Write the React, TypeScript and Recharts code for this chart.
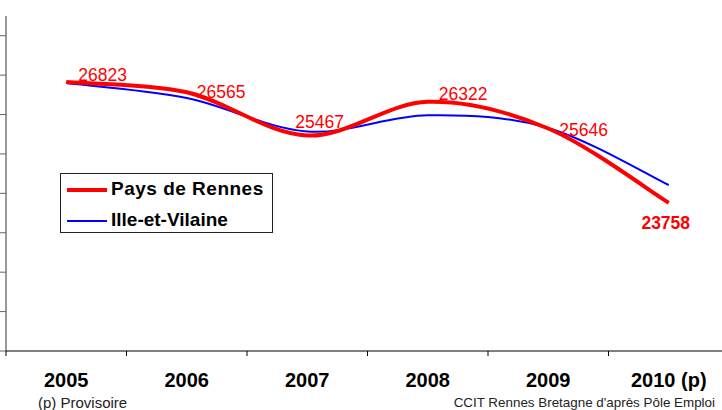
import { LineChart, Line, XAxis, YAxis, LabelList } from "recharts";

const years = ["2005", "2006", "2007", "2008", "2009", "2010 (p)"];
const paysDeRennes = [26823, 26565, 25467, 26322, 25646, 23758];
const illeEtVilaine = [26800, 26420, 25570, 25980, 25660, 24210];
const yTicks = [20000, 21000, 22000, 23000, 24000, 25000, 26000, 27000, 28000];
const xBounds = [-0.5, 0.5, 1.5, 2.5, 3.5, 4.5, 5.5];

// label placement next to each point: [dx, dy]
const labelOffsets = [
  [12, -1],
  [10, 6],
  [-12, -8],
  [11, -2],
  [11, 8],
  [-3, 26],
];

const data = years.map((y, i) => ({
  x: i,
  year: y,
  pays: paysDeRennes[i],
  ille: illeEtVilaine[i],
}));

const W = 740;
const H = 410;
const M = { top: 16, right: 11, left: 0 };
const YW = 6;
const halfCat = (W - M.left - YW - M.right) / years.length / 2;
const font = "'Liberation Sans', Arial, Helvetica, sans-serif";

// Excel-like smoothed line (Catmull-Rom through the points)
const smoothCurve = (ctx: any) => {
  let pts: number[][] = [];
  return {
    areaStart() {},
    areaEnd() {},
    lineStart() {
      pts = [];
    },
    lineEnd() {
      if (!pts.length) return;
      ctx.moveTo(pts[0][0], pts[0][1]);
      for (let i = 0; i < pts.length - 1; i++) {
        const p0 = pts[i - 1] || pts[i];
        const p1 = pts[i];
        const p2 = pts[i + 1];
        const p3 = pts[i + 2] || p2;
        ctx.bezierCurveTo(
          p1[0] + (p2[0] - p0[0]) / 6,
          p1[1] + (p2[1] - p0[1]) / 6,
          p2[0] - (p3[0] - p1[0]) / 6,
          p2[1] - (p3[1] - p1[1]) / 6,
          p2[0],
          p2[1]
        );
      }
    },
    point(x: number, y: number) {
      pts.push([x, y]);
    },
  };
};

const NoTick = () => null;

const XTick = (props: any) => {
  const { x, y, payload } = props;
  const label = years[payload.value + 0.5];
  if (!label) return <g />;
  return (
    <text
      x={x + halfCat}
      y={y + 29}
      textAnchor="middle"
      fontFamily={font}
      fontSize={20}
      fontWeight="bold"
      fill="#000"
    >
      {label}
    </text>
  );
};

const PointLabel = (props: any) => {
  const { x, y, index, value } = props;
  const [dx, dy] = labelOffsets[index];
  const last = index === years.length - 1;
  return (
    <text
      x={x + dx}
      y={y + dy}
      textAnchor={last ? "middle" : "start"}
      fontFamily={font}
      fontSize={17.5}
      fontWeight={last ? "bold" : "normal"}
      fill="#ff0000"
    >
      {value}
    </text>
  );
};

export default function App() {
  return (
    <div
      style={{
        position: "absolute",
        left: 0,
        top: 0,
        width: 722,
        height: 410,
        overflow: "hidden",
        background: "#fff",
        fontFamily: font,
      }}
    >
      <LineChart width={W} height={H} data={data} margin={{ ...M, bottom: 0 }}>
        <YAxis
          width={YW}
          domain={[20000, 28500]}
          ticks={yTicks}
          tick={<NoTick />}
          tickSize={6}
          axisLine={{ stroke: "#333" }}
          tickLine={{ stroke: "#666" }}
          allowDataOverflow
        />
        <XAxis
          dataKey="x"
          type="number"
          height={59}
          domain={[-0.5, 5.5]}
          ticks={xBounds}
          interval={0}
          tickSize={5}
          tick={<XTick />}
          axisLine={{ stroke: "#000" }}
          tickLine={{ stroke: "#000" }}
          allowDataOverflow
        />
        <Line
          dataKey="ille"
          type={smoothCurve as any}
          stroke="#0000ff"
          strokeWidth={2}
          dot={false}
          isAnimationActive={false}
        />
        <Line
          dataKey="pays"
          type={smoothCurve as any}
          stroke="#ff0000"
          strokeWidth={4}
          dot={false}
          isAnimationActive={false}
        >
          <LabelList dataKey="pays" content={<PointLabel />} />
        </Line>
      </LineChart>

      <div
        style={{
          position: "absolute",
          left: 60,
          top: 173,
          width: 211,
          height: 58,
          border: "1px solid #222",
          background: "#fff",
        }}
      >
        <div style={{ position: "absolute", left: 6, top: 14, width: 40, height: 4, background: "#ff0000" }} />
        <div
          style={{
            position: "absolute",
            left: 50,
            top: 4,
            fontSize: 19,
            fontWeight: "bold",
            letterSpacing: 0.5,
            lineHeight: "22px",
            whiteSpace: "nowrap",
          }}
        >
          Pays de Rennes
        </div>
        <div style={{ position: "absolute", left: 6, top: 46, width: 40, height: 2, background: "#0000ff" }} />
        <div
          style={{
            position: "absolute",
            left: 50,
            top: 35,
            fontSize: 19,
            fontWeight: "bold",
            lineHeight: "22px",
            whiteSpace: "nowrap",
          }}
        >
          Ille-et-Vilaine
        </div>
      </div>

      <div
        style={{
          position: "absolute",
          left: 38,
          top: 394,
          fontSize: 15,
          lineHeight: "17px",
          color: "#222",
          whiteSpace: "nowrap",
        }}
      >
        (p) Provisoire
      </div>
      <div
        style={{
          position: "absolute",
          right: 7,
          top: 394,
          fontSize: 13.4,
          lineHeight: "17px",
          color: "#222",
          whiteSpace: "nowrap",
        }}
      >
        CCIT Rennes Bretagne d'après Pôle Emploi
      </div>
    </div>
  );
}
